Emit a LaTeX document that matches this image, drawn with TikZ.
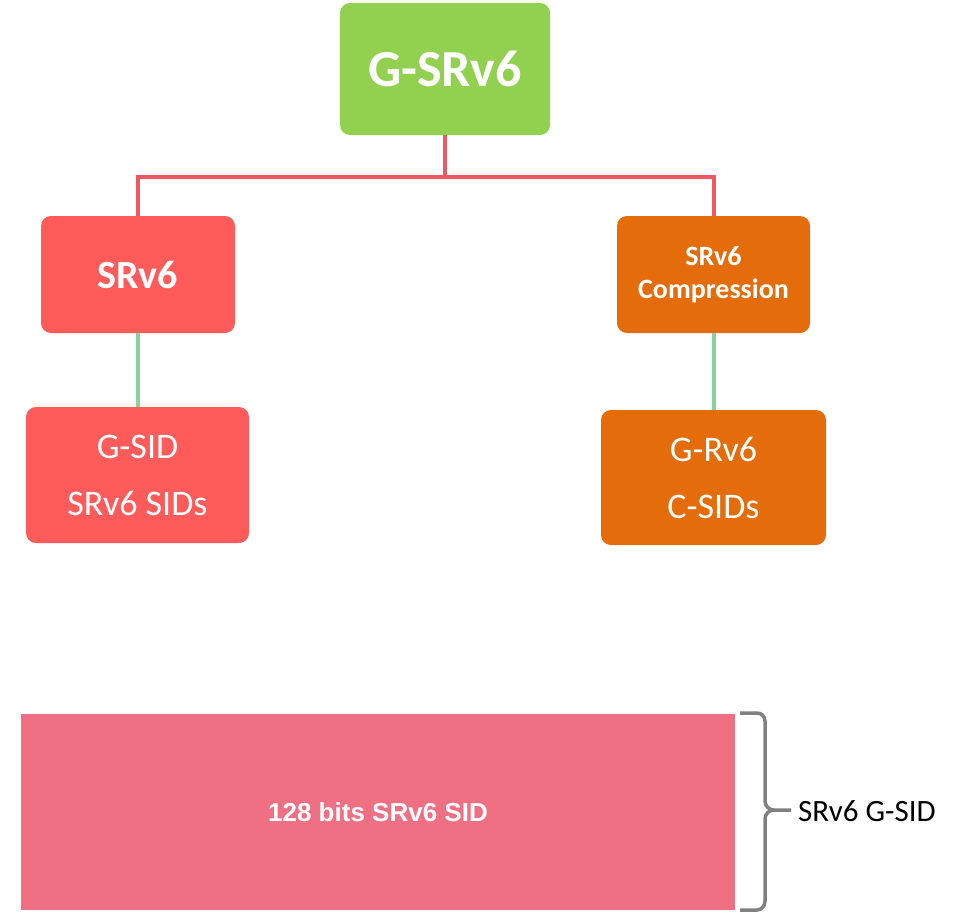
\documentclass[tikz,border=0pt]{standalone}
\usepackage{fontspec}
\setmainfont{Carlito}
\newfontfamily\arialfont{Liberation Sans}
\usepackage{xcolor}
\usepackage{tikz}
\usetikzlibrary{positioning}

\definecolor{topgreen}{HTML}{92D050}
\definecolor{boxred}{HTML}{FF5B5B}
\definecolor{boxorange}{HTML}{E46C0A}
\definecolor{sidpink}{HTML}{F07083}
\definecolor{treered}{HTML}{F05765}
\definecolor{treegreen}{HTML}{86D49A}
\definecolor{bracegray}{HTML}{808080}

\begin{document}
\begin{tikzpicture}[x=1pt,y=-1pt,every node/.style={align=center,rectangle,text=white,inner sep=0pt},
  box/.style={rounded corners=10pt,draw=none},
  redline/.style={treered,line width=4pt},
  greenline/.style={treegreen,line width=4pt}]
\useasboundingbox (0,0) rectangle (956,913);

\node[box,fill=topgreen,minimum width=210pt,minimum height=132pt,font=\fontsize{52}{60}\selectfont\bfseries] (gsrv6) at (445,69) {G-SRv6};
\node[box,fill=boxred,minimum width=194pt,minimum height=117pt,font=\fontsize{40}{48}\selectfont\bfseries] (srv6) at (138,274.5) {SRv6};
\node[box,fill=boxorange,minimum width=193pt,minimum height=117pt,font=\fontsize{28}{33}\selectfont\bfseries] (comp) at (713.5,274.5) {SRv6\\Compression};
\node[box,fill=boxred,minimum width=223pt,minimum height=136pt,font=\fontsize{36}{57}\selectfont] (gsid) at (137.5,475) {G-SID\\SRv6 SIDs};
\node[box,fill=boxorange,minimum width=225pt,minimum height=135pt,font=\fontsize{36}{57}\selectfont] (grv6) at (713.5,477.5) {G-Rv6\\C-SIDs};
\node[fill=sidpink,minimum width=714pt,minimum height=196pt,font=\arialfont\fontsize{26}{30}\selectfont\bfseries] (sid) at (378,812) {128 bits SRv6 SID};
\node[text=black,anchor=west,font=\fontsize{31}{36}\selectfont] (label) at (798,811) {SRv6 G-SID};

\coordinate (split) at (445,177);
\draw[redline] (gsrv6.south) -- (split)
      (srv6.north) -- (srv6.north |- split) -- (comp.north |- split) -- (comp.north);
\draw[greenline] (srv6.south) -- (srv6.south |- gsid.north)
      (comp.south) -- (comp.south |- grv6.north);

% brace next to the SID
\coordinate (tip) at (791,810);
\draw[bracegray,line width=3.5pt] (740,713) -- (757,713) to[out=0,in=90] (765,721) -- (765,801)
      to[out=-90,in=180] (774,810) -- (tip)
      (774,810) to[out=180,in=90] (765,819) -- (765,901) to[out=-90,in=0] (757,910) -- (740,910);
\end{tikzpicture}
\end{document}
